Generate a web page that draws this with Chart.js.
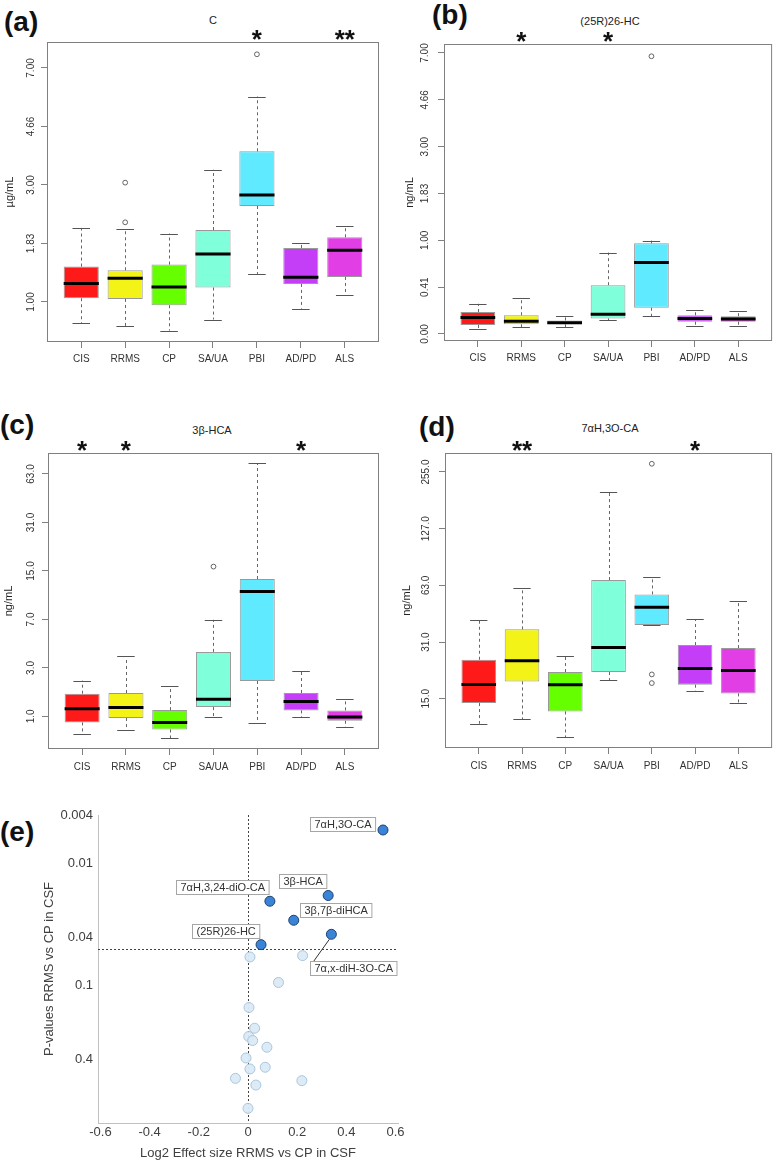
<!DOCTYPE html>
<html lang="en">
<head>
<meta charset="UTF-8" />
<title>CSF sterols by diagnosis</title>
<script src="https://cdn.jsdelivr.net/npm/chart.js"></script>
<style>
  body {
    margin: 0;
    background: #fff;
    width: 777px;
    height: 1161px;
    position: relative;
    overflow: hidden;
    font-family: 'Liberation Sans', Arial, sans-serif;
  }
  canvas { position: absolute; }
  .tag {
    position: absolute;
    font-weight: bold;
    font-size: 28px;
    line-height: 28px;
    color: #111;
  }
  .ttl {
    position: absolute;
    font-size: 11px;
    line-height: 12px;
    color: #222;
    transform: translateX(-50%);
    white-space: nowrap;
  }
</style>
</head>
<body>
  <div class="tag" style="left:4px;top:8px">(a)</div>
  <div class="tag" style="left:432px;top:1px">(b)</div>
  <div class="tag" style="left:0px;top:411px">(c)</div>
  <div class="tag" style="left:419px;top:413px">(d)</div>
  <div class="tag" style="left:0px;top:818px">(e)</div>

  <div class="ttl" style="left:213px;top:14px">C</div>
  <div class="ttl" style="left:610px;top:15px">(25R)26-HC</div>
  <div class="ttl" style="left:212px;top:424px">3β-HCA</div>
  <div class="ttl" style="left:610px;top:422px">7αH,3O-CA</div>

  <canvas id="chartA" width="388" height="380" style="left:0;top:0"></canvas>
  <canvas id="chartB" width="389" height="380" style="left:388px;top:0"></canvas>
  <canvas id="chartC" width="388" height="390" style="left:0;top:400px"></canvas>
  <canvas id="chartD" width="389" height="390" style="left:388px;top:400px"></canvas>
  <canvas id="chartE" width="420" height="361" style="left:0;top:800px"></canvas>

<script>
// values are on the plotted log2(x + 1) scale
const groups = ['CIS', 'RRMS', 'CP', 'SA/UA', 'PBI', 'AD/PD', 'ALS'];
const groupColors = ['#ff1a1a', '#f3f317', '#66ff00', '#80ffdb', '#60eaff', '#c43ef8', '#e23ee6'];

// (a) C, ug/mL
const aLow  = [0.82, 0.795, 0.756, 0.85, 1.24, 0.943, 1.063];
const aQ1   = [1.032, 1.026, 0.972, 1.123, 1.82, 1.154, 1.214];
const aMed  = [1.157, 1.203, 1.128, 1.41, 1.915, 1.211, 1.442];
const aQ3   = [1.303, 1.271, 1.32, 1.615, 2.288, 1.462, 1.553];
const aHigh = [1.633, 1.624, 1.585, 2.13, 2.756, 1.50, 1.653];
const aOutGroup = [1, 1, 4];
const aOutValue = [1.681, 2.02, 3.117];
const aStars = ['', '', '', '', '*', '', '**'];
const aTicks = [1, 1.5, 2, 2.5, 3];

// (b) (25R)26-HC, ng/mL
const bLow  = [0.05, 0.071, 0.071, 0.149, 0.19, 0.085, 0.088];
const bQ1   = [0.096, 0.103, 0.103, 0.165, 0.28, 0.131, 0.131];
const bMed  = [0.175, 0.135, 0.12, 0.21, 0.763, 0.165, 0.16];
const bQ3   = [0.235, 0.2, 0.145, 0.521, 0.968, 0.2, 0.19];
const bHigh = [0.322, 0.386, 0.19, 0.869, 0.997, 0.255, 0.245];
const bOutGroup = [4];
const bOutValue = [2.965];
const bStars = ['', '*', '', '*', '', '', ''];
const bTicks = [0, 0.5, 1, 1.5, 2, 2.5, 3];

// (c) 3beta-HCA, ng/mL
const cLow  = [0.634, 0.717, 0.552, 0.986, 0.862, 0.986, 0.772];
const cQ1   = [0.876, 0.966, 0.731, 1.193, 1.731, 1.124, 0.91];
const cMed  = [1.159, 1.186, 0.876, 1.352, 3.579, 1.31, 0.986];
const cQ3   = [1.469, 1.483, 1.131, 2.331, 3.834, 1.483, 1.124];
const cHigh = [1.738, 2.241, 1.621, 2.993, 6.226, 1.931, 1.359];
const cOutGroup = [3];
const cOutValue = [4.09];
const cStars = ['*', '*', '', '', '', '*', ''];
const cTicks = [1, 2, 3, 4, 5, 6];

// (d) 7alphaH,3O-CA, ng/mL
const dLow  = [3.559, 3.641, 3.324, 4.329, 5.3, 4.129, 3.924];
const dQ1   = [3.924, 4.306, 3.776, 4.471, 5.3, 4.247, 4.094];
const dMed  = [4.253, 4.671, 4.247, 4.906, 5.612, 4.535, 4.5];
const dQ3   = [4.688, 5.224, 4.471, 6.094, 5.841, 4.947, 4.894];
const dHigh = [5.388, 5.953, 4.753, 7.65, 6.147, 5.406, 5.718];
const dOutGroup = [4, 4, 4];
const dOutValue = [4.429, 4.276, 8.145];
const dStars = ['', '**', '', '', '', '*', ''];
const dTicks = [4, 5, 6, 7, 8];

// (e) RRMS vs CP, x = log2 effect size, y = -log10(p)
const eSigNames = ['7αH,3O-CA', '3β-HCA', '7αH,3,24-diO-CA', '3β,7β-diHCA', '7α,x-diH-3O-CA', '(25R)26-HC'];
const eSigEffect = [0.549, 0.326, 0.089, 0.186, 0.339, 0.053];
const eSigNegLogP = [2.277, 1.740, 1.693, 1.537, 1.422, 1.337];
const eOtherEffect = [0.008, 0.222, 0.124, 0.004, 0.027, 0.003, 0.019, 0.077, -0.008, 0.008, 0.07, -0.051, 0.219, 0.032, 0.0];
const eOtherNegLogP = [1.236, 1.247, 1.027, 0.822, 0.652, 0.584, 0.551, 0.496, 0.408, 0.318, 0.332, 0.241, 0.222, 0.186, -0.005];
const ePTicks = [0.004, 0.01, 0.04, 0.1, 0.4];
const eEffectTicks = [-0.6, -0.4, -0.2, 0, 0.2, 0.4, 0.6];
const eCutoffP = 0.05;

Chart.defaults.font.family = "'Liberation Sans', Arial, sans-serif";
Chart.defaults.color = '#333';

function boxPlugin(s) {
  return {
    id: 'boxExtras',
    beforeDatasetsDraw(chart) {
      const ctx = chart.ctx, xs = chart.scales.x, ys = chart.scales.y;
      ctx.save();
      ctx.strokeStyle = '#666';
      ctx.lineWidth = 1;
      ctx.setLineDash([3, 3]);
      groups.forEach((g, i) => {
        const x = Math.round(xs.getPixelForValue(i + 1)) + 0.5;
        ctx.beginPath();
        ctx.moveTo(x, ys.getPixelForValue(s.q3[i]));
        ctx.lineTo(x, ys.getPixelForValue(s.high[i]));
        ctx.moveTo(x, ys.getPixelForValue(s.q1[i]));
        ctx.lineTo(x, ys.getPixelForValue(s.low[i]));
        ctx.stroke();
      });
      ctx.restore();
    },
    afterDatasetsDraw(chart) {
      const ctx = chart.ctx, xs = chart.scales.x, ys = chart.scales.y;
      const bars = chart.getDatasetMeta(0).data;
      ctx.save();
      groups.forEach((g, i) => {
        const x = xs.getPixelForValue(i + 1);
        const w = bars[i].width;
        ctx.strokeStyle = '#555';
        ctx.lineWidth = 1;
        ctx.beginPath();
        [s.high[i], s.low[i]].forEach(v => {
          const y = Math.round(ys.getPixelForValue(v)) + 0.5;
          ctx.moveTo(x - w / 4, y);
          ctx.lineTo(x + w / 4, y);
        });
        ctx.stroke();
        ctx.strokeStyle = '#000';
        ctx.lineWidth = 3;
        ctx.beginPath();
        const ym = ys.getPixelForValue(s.med[i]);
        ctx.moveTo(x - w / 2, ym);
        ctx.lineTo(x + w / 2, ym);
        ctx.stroke();
      });
      ctx.restore();
    },
    afterDraw(chart) {
      const ctx = chart.ctx, a = chart.chartArea, xs = chart.scales.x;
      ctx.save();
      ctx.strokeStyle = '#808080';
      ctx.lineWidth = 1;
      ctx.strokeRect(a.left + 0.5, a.top + 0.5, a.right - a.left - 1, a.bottom - a.top - 1);
      ctx.fillStyle = '#111';
      ctx.font = "bold 26px 'Liberation Sans', Arial, sans-serif";
      ctx.textAlign = 'center';
      ctx.textBaseline = 'alphabetic';
      s.stars.forEach((st, i) => {
        if (st) ctx.fillText(st, xs.getPixelForValue(i + 1), a.top + 6);
      });
      ctx.restore();
    }
  };
}

function boxChart(id, s, L) {
  const tickGrid = { display: true, drawOnChartArea: false, drawTicks: true, tickLength: 6, color: '#808080', offset: false };
  return new Chart(document.getElementById(id), {
    type: 'bar',
    data: {
      datasets: [{
        data: groups.map((g, i) => ({ x: i + 1, y: [s.q1[i], s.q3[i]] })),
        backgroundColor: groupColors,
        borderColor: 'rgba(0,0,0,0.4)',
        borderWidth: 1,
        borderSkipped: false,
        barPercentage: 0.8,
        categoryPercentage: 1
      }, {
        type: 'scatter',
        data: s.outGroup.map((g, i) => ({ x: g + 1, y: s.outValue[i] })),
        pointRadius: 2.4,
        pointBorderWidth: 0.9,
        pointBorderColor: '#555',
        pointBackgroundColor: 'rgba(0,0,0,0)'
      }]
    },
    options: {
      responsive: false,
      animation: false,
      events: [],
      layout: { padding: { top: L.top, right: L.right, left: 0, bottom: 0 } },
      plugins: { legend: { display: false }, tooltip: { enabled: false } },
      scales: {
        x: {
          type: 'linear',
          min: 0.22,
          max: 7.78,
          offset: false,
          afterBuildTicks: sc => { sc.ticks = groups.map((g, i) => ({ value: i + 1 })); },
          afterFit: sc => { sc.height = L.xh; },
          grid: tickGrid,
          border: { display: false },
          ticks: {
            autoSkip: false,
            maxRotation: 0,
            padding: L.xp,
            font: { size: 10 },
            color: '#333',
            callback: v => groups[v - 1]
          }
        },
        y: {
          type: 'linear',
          min: s.min,
          max: s.max,
          afterBuildTicks: sc => { sc.ticks = s.ticks.map(v => ({ value: v })); },
          afterFit: sc => { sc.width = L.yw; },
          grid: tickGrid,
          border: { display: false },
          ticks: {
            autoSkip: false,
            minRotation: 90,
            maxRotation: 90,
            crossAlign: 'center',
            padding: L.yp,
            font: { size: 10 },
            color: '#333',
            callback: v => (Math.pow(2, v) - 1).toFixed(s.digits)
          },
          title: {
            display: true,
            text: s.unit,
            font: { size: 11 },
            color: '#222',
            padding: { top: L.tp, bottom: 0 }
          }
        }
      }
    },
    plugins: [boxPlugin(s)]
  });
}

boxChart('chartA', {
  low: aLow, q1: aQ1, med: aMed, q3: aQ3, high: aHigh,
  outGroup: aOutGroup, outValue: aOutValue, stars: aStars, ticks: aTicks,
  min: 0.658, max: 3.222, digits: 2, unit: 'µg/mL'
}, { top: 42, right: 9, xh: 38, yw: 47, xp: 5, yp: 0, tp: 3.4 });

boxChart('chartB', {
  low: bLow, q1: bQ1, med: bMed, q3: bQ3, high: bHigh,
  outGroup: bOutGroup, outValue: bOutValue, stars: bStars, ticks: bTicks,
  min: -0.075, max: 3.096, digits: 2, unit: 'ng/mL'
}, { top: 44, right: 4, xh: 39, yw: 56, xp: 5, yp: 3.3, tp: 15.4 });

boxChart('chartC', {
  low: cLow, q1: cQ1, med: cMed, q3: cQ3, high: cHigh,
  outGroup: cOutGroup, outValue: cOutValue, stars: cStars, ticks: cTicks,
  min: 0.328, max: 6.433, digits: 1, unit: 'ng/mL'
}, { top: 53, right: 9, xh: 41, yw: 48, xp: 6, yp: 1.3, tp: 2.4 });

boxChart('chartD', {
  low: dLow, q1: dQ1, med: dMed, q3: dQ3, high: dHigh,
  outGroup: dOutGroup, outValue: dOutValue, stars: dStars, ticks: dTicks,
  min: 3.131, max: 8.335, digits: 1, unit: 'ng/mL'
}, { top: 53, right: 2, xh: 42, yw: 57, xp: 6, yp: 0, tp: 12.4 });

// (e) volcano-style panel
const eLabelPlace = [
  { dx: -40, dy: -6 },
  { dx: -25, dy: -14.5 },
  { dx: -48, dy: -14 },
  { dx: 41.5, dy: -10 },
  { dx: 22.3, dy: 34, lead: true },
  { dx: -35.5, dy: -14 }
];

const volcanoPlugin = {
  id: 'volcanoExtras',
  beforeDatasetsDraw(chart) {
    const ctx = chart.ctx, a = chart.chartArea, xs = chart.scales.x, ys = chart.scales.y;
    ctx.save();
    ctx.strokeStyle = '#444';
    ctx.lineWidth = 1;
    ctx.setLineDash([2, 2]);
    const x0 = Math.round(xs.getPixelForValue(0)) + 0.5;
    const yc = Math.round(ys.getPixelForValue(-Math.log10(eCutoffP))) + 0.5;
    ctx.beginPath();
    ctx.moveTo(x0, a.top);
    ctx.lineTo(x0, a.bottom);
    ctx.moveTo(a.left, yc);
    ctx.lineTo(a.right, yc);
    ctx.stroke();
    ctx.restore();
  },
  afterDatasetsDraw(chart) {
    const ctx = chart.ctx;
    const pts = chart.getDatasetMeta(1).data;
    ctx.save();
    ctx.font = "11px 'Liberation Sans', Arial, sans-serif";
    ctx.textAlign = 'center';
    ctx.textBaseline = 'middle';
    eSigNames.forEach((name, i) => {
      const p = pts[i], pl = eLabelPlace[i];
      const w = ctx.measureText(name).width + 8, h = 14;
      const cx = p.x + pl.dx, cy = p.y + pl.dy;
      const bx = Math.round(cx - w / 2) + 0.5, by = Math.round(cy - h / 2) + 0.5;
      if (pl.lead) {
        ctx.strokeStyle = '#333';
        ctx.lineWidth = 1;
        ctx.beginPath();
        ctx.moveTo(p.x - 2, p.y + 5);
        ctx.lineTo(bx + 3, by);
        ctx.stroke();
      }
      ctx.fillStyle = '#fff';
      ctx.fillRect(bx, by, w, h);
      ctx.strokeStyle = '#a6a6a6';
      ctx.lineWidth = 1;
      ctx.strokeRect(bx, by, w, h);
      ctx.fillStyle = '#333';
      ctx.fillText(name, bx + w / 2, by + h / 2 + 0.5);
    });
    ctx.restore();
  }
};

new Chart(document.getElementById('chartE'), {
  type: 'scatter',
  data: {
    datasets: [{
      data: eOtherEffect.map((x, i) => ({ x, y: eOtherNegLogP[i] })),
      pointRadius: 5,
      pointBackgroundColor: 'rgba(218,234,246,0.95)',
      pointBorderColor: '#a9c5dc',
      pointBorderWidth: 1
    }, {
      data: eSigEffect.map((x, i) => ({ x, y: eSigNegLogP[i] })),
      pointRadius: 5,
      pointBackgroundColor: '#3a84d8',
      pointBorderColor: '#1d3f6e',
      pointBorderWidth: 1
    }]
  },
  options: {
    responsive: false,
    animation: false,
    events: [],
    layout: { padding: { top: 15, right: 22, left: 0, bottom: 0 } },
    plugins: { legend: { display: false }, tooltip: { enabled: false } },
    scales: {
      x: {
        type: 'linear',
        min: -0.61,
        max: 0.61,
        afterBuildTicks: sc => { sc.ticks = eEffectTicks.map(v => ({ value: v })); },
        afterFit: sc => { sc.height = 38; },
        grid: { display: false, drawTicks: false },
        border: { display: true, color: '#c0c0c0' },
        ticks: {
          autoSkip: false,
          maxRotation: 0,
          padding: 2,
          font: { size: 13 },
          color: '#404040',
          callback: v => (v === 0 ? '0' : v.toFixed(1))
        },
        title: {
          display: true,
          text: 'Log2 Effect size RRMS vs CP in CSF',
          font: { size: 13 },
          color: '#404040',
          padding: 0
        }
      },
      y: {
        type: 'linear',
        min: -0.125,
        max: 2.4,
        afterBuildTicks: sc => { sc.ticks = ePTicks.map(p => ({ value: -Math.log10(p) })); },
        afterFit: sc => { sc.width = 98; },
        grid: { display: false, drawTicks: false },
        border: { display: true, color: '#c0c0c0' },
        ticks: {
          autoSkip: false,
          padding: 5,
          font: { size: 13 },
          color: '#404040',
          callback: (v, i) => String(ePTicks[i])
        },
        title: {
          display: true,
          text: 'P-values RRMS vs CP in CSF',
          font: { size: 13 },
          color: '#404040',
          padding: { top: 42, bottom: 0 }
        }
      }
    }
  },
  plugins: [volcanoPlugin]
});
</script>
</body>
</html>
